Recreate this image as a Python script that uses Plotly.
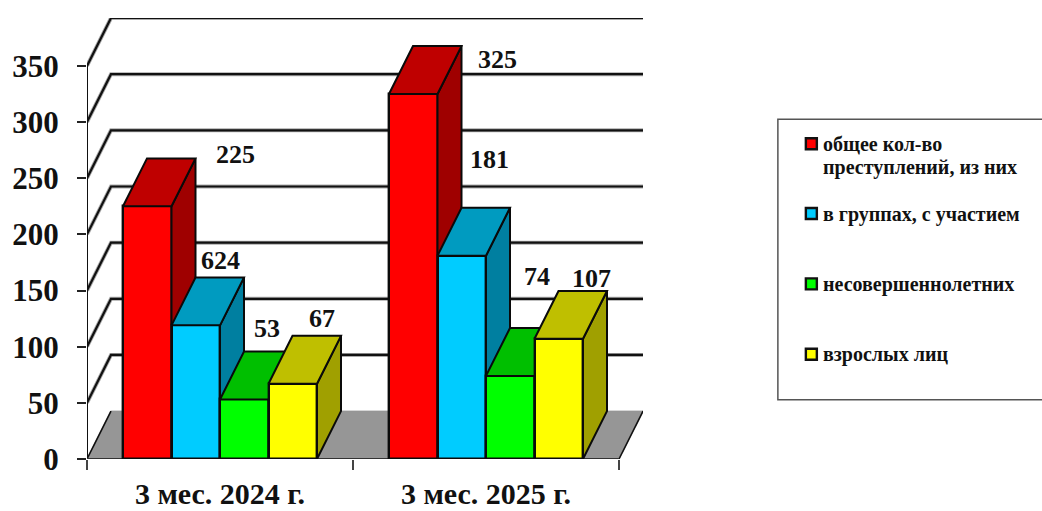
import plotly.graph_objects as go

# ---------- data ----------
categories = ["3 мес. 2024 г.", "3 мес. 2025 г."]
series_names = ["общее кол-во\nпреступлений, из них", "в группах, с участием", "несовершеннолетних", "взрослых лиц"]
total = [225, 325]
groups = [119, 181]
minors = [53, 74]
adults = [67, 107]
total_labels = ["225", "325"]
groups_labels = ["624", "181"]
minors_labels = ["53", "74"]
adults_labels = ["67", "107"]
y_ticks = [0, 50, 100, 150, 200, 250, 300, 350]

# ---------- style ----------
FONT = "Liberation Serif"
front = ["#FF0000", "#00CCFF", "#00FF00", "#FFFF00"]
top = ["#BF0000", "#009BC0", "#00BF00", "#BFBF00"]
side = ["#9F0000", "#007FA0", "#009F00", "#A0A000"]
series = [total, groups, minors, adults]
labels = [total_labels, groups_labels, minors_labels, adults_labels]
label_shift = [[(88, 52), (84, 34.6)], [(25, 64.5), (28, 96.7)], [(22.5, 71), (26.5, 99)], [(29, 65), (32.5, 60)]]

W, H = 1042, 511
L, R, T, B = 87.0, 643.5, 17.5, 459.5
PX_PER_CAT = 266.0
PX_PER_VAL = 394.0 / 350
DX = 24.0 / PX_PER_CAT
DY = 48.0 / PX_PER_VAL
XR = [-0.5, 1.5 + DX]
YR = [0, 350 + DY]
BAR_W = 48.5 / PX_PER_CAT
GROUP_W = BAR_W * 4


def px(x):
    return (x - L) / (R - L)


def py(y):
    return (B - y) / (B - T)


fig = go.Figure()

# floor
fig.add_trace(go.Scatter(x=[-0.5, -0.5 + DX, 1.5 + DX, 1.5, -0.5], y=[0, DY, DY, 0, 0], mode="lines",
                         fill="toself", fillcolor="#969696", line=dict(color="#969696", width=1),
                         hoverinfo="skip", showlegend=False, cliponaxis=False))
fig.add_trace(go.Scatter(x=[-0.5, -0.5 + DX, None, 1.5, 1.5 + DX], y=[0, DY, None, 0, DY], mode="lines",
                         line=dict(color="#111111", width=1.6), hoverinfo="skip", showlegend=False, cliponaxis=False))

# walls' gridlines
gx, gy = [], []
for v in y_ticks[1:]:
    gx += [-0.5, -0.5 + DX, 1.5 + DX, None]
    gy += [v, v + DY, v + DY, None]
fig.add_trace(go.Scatter(x=gx, y=gy, mode="lines", line=dict(color="#AAAAAA", width=4), hoverinfo="skip",
                         showlegend=False, cliponaxis=False))
fig.add_trace(go.Scatter(x=gx, y=gy, mode="lines", line=dict(color="#111111", width=2.2), hoverinfo="skip",
                         showlegend=False, cliponaxis=False))

# axes lines
fig.add_trace(go.Scatter(x=[-0.5, -0.5], y=[0, 350], mode="lines", line=dict(color="#111111", width=2),
                         hoverinfo="skip", showlegend=False, cliponaxis=False))
fig.add_trace(go.Scatter(x=[-0.5, 1.5], y=[0, 0], mode="lines", line=dict(color="#333333", width=2),
                         hoverinfo="skip", showlegend=False, cliponaxis=False))

layout_axes = {}
annotations = []
for i, vals in enumerate(series):
    n = i + 2
    xa, ya = f"x{n}", f"y{n}"
    layout_axes[f"xaxis{n}"] = dict(overlaying="x", range=XR, visible=False, anchor=ya, type="linear", automargin=False)
    layout_axes[f"yaxis{n}"] = dict(overlaying="y", range=YR, visible=False, anchor=xa, type="linear", automargin=False)
    offs = -GROUP_W / 2 + i * BAR_W
    fig.add_trace(go.Bar(x=[0, 1], y=vals, width=BAR_W, offset=offs, name=series_names[i].replace("\n", " "),
                         marker=dict(color=front[i], line=dict(color="#0A0A0A", width=2.4)),
                         xaxis=xa, yaxis=ya, showlegend=False, cliponaxis=False))
    tx, ty, sx, sy = [], [], [], []
    for c, v in enumerate(vals):
        x0 = c + offs
        x1 = x0 + BAR_W
        tx += [x0, x1, x1 + DX, x0 + DX, x0, None]
        ty += [v, v, v + DY, v + DY, v, None]
        sx += [x1, x1 + DX, x1 + DX, x1, x1, None]
        sy += [0, DY, v + DY, v, 0, None]
        annotations.append(dict(x=c + offs + BAR_W / 2, y=v, xref=xa, yref=ya, text=labels[i][c], showarrow=False,
                                xshift=label_shift[i][c][0], yshift=label_shift[i][c][1],
                                font=dict(family=FONT, size=26, color="#111111", weight=700)))
    fig.add_trace(go.Scatter(x=sx, y=sy, mode="lines", fill="toself", fillcolor=side[i],
                             line=dict(color="#0A0A0A", width=2), xaxis=xa, yaxis=ya,
                             hoverinfo="skip", showlegend=False, cliponaxis=False))
    fig.add_trace(go.Scatter(x=tx, y=ty, mode="lines", fill="toself", fillcolor=top[i],
                             line=dict(color="#0A0A0A", width=2), xaxis=xa, yaxis=ya,
                             hoverinfo="skip", showlegend=False, cliponaxis=False))

# legend built from the names
shapes = [dict(type="rect", xref="paper", yref="paper", x0=px(778.5), x1=px(1050), y0=py(119), y1=py(400),
               line=dict(color="#555555", width=1.5), fillcolor="white", layer="below")]
swatch_mid = [143.5, 213.5, 284, 354.5]
for i, name in enumerate(series_names):
    m = swatch_mid[i]
    shapes.append(dict(type="rect", xref="paper", yref="paper", x0=px(806.5), x1=px(817.5), y0=py(m - 5.5),
                       y1=py(m + 5.5), fillcolor=front[i], line=dict(color="#111111", width=2.4)))
    for j, line in enumerate(name.split("\n")):
        annotations.append(dict(x=px(821.5), y=py(m + 0.5 + j * 23), xref="paper", yref="paper", text=line,
                                showarrow=False, xanchor="left", yanchor="middle",
                                font=dict(family=FONT, size=20, color="#111111", weight=700)))

fig.update_layout(
    width=W, height=H, autosize=False, bargap=0,
    margin=dict(l=L, r=W - R, t=T, b=H - B, pad=0, autoexpand=False),
    paper_bgcolor="white", plot_bgcolor="white", showlegend=False,
    shapes=shapes, annotations=annotations,
    xaxis=dict(type="linear", range=XR, showgrid=False, zeroline=False, showline=False, automargin=False,
               tickmode="array", tickvals=[0, 1], ticktext=categories, ticks="", ticklabelstandoff=14,
               tickfont=dict(family=FONT, size=30, color="#111111", weight=700),
               minor=dict(tickmode="array", tickvals=[-0.5, 0.5, 1.5], ticks="outside", ticklen=10,
                          tickwidth=1.5, tickcolor="#444444", showgrid=False)),
    yaxis=dict(type="linear", range=YR, showgrid=False, zeroline=False, showline=False, automargin=False,
               tickmode="array", tickvals=y_ticks, ticks="outside", ticklen=9, tickwidth=1.5, tickcolor="#222222",
               ticklabelstandoff=12,
               tickfont=dict(family=FONT, size=31, color="#111111", weight=700)),
    **layout_axes,
)
fig.write_html("out.html", post_script="document.body.style.margin='0';", config={"displayModeBar": False})
